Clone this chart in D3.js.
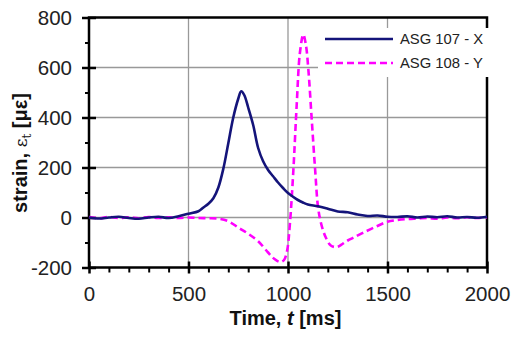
<!DOCTYPE html>
<html>
<head>
<meta charset="utf-8">
<title>strain vs time</title>
<script src="https://d3js.org/d3.v7.min.js"></script>
<style>
  body { margin: 0; background: #fff; }
  text { font-family: "Liberation Sans", Arial, sans-serif; }
</style>
</head>
<body>
<script>
// data (time in ms, strain in microstrain)
const t107 = [0, 50, 100, 150, 200, 250, 300, 350, 400, 450, 500, 550, 575, 600, 625, 650, 675, 700, 725, 750, 765, 780, 800, 825, 850, 875, 900, 925, 950, 975, 1000, 1025, 1050, 1075, 1100, 1150, 1200, 1250, 1300, 1350, 1400, 1450, 1500, 1550, 1600, 1650, 1700, 1750, 1800, 1850, 1900, 1950, 2000];
const v107 = [0, -4, 0, 3, -2, -5, 0, 3, -2, 5, 15, 25, 40, 55, 77, 120, 195, 297, 400, 475, 505, 490, 440, 370, 278, 225, 190, 165, 140, 118, 98, 83, 70, 60, 52, 45, 35, 24, 21, 12, 6, 8, 3, 2, 5, 0, 4, 1, 5, 0, 2, -1, 3];

const t108 = [0, 50, 100, 150, 200, 250, 300, 350, 400, 450, 500, 550, 600, 650, 700, 750, 800, 850, 900, 930, 960, 980, 995, 1010, 1027, 1044, 1060, 1077, 1090, 1102, 1119, 1136, 1152, 1170, 1190, 1215, 1245, 1275, 1300, 1330, 1375, 1430, 1500, 1550, 1600, 1650, 1700, 1750, 1800, 1850, 1900, 1950, 2000];
const v108 = [2, -3, 2, -2, 1, -3, 2, -2, 1, -2, 0, -2, -3, -5, -15, -40, -65, -95, -140, -165, -178, -170, -135, -20, 190, 455, 660, 732, 690, 595, 395, 195, 35, -35, -80, -112, -118, -105, -92, -80, -62, -41, -17, -10, -6, -4, -2, -5, 0, -3, 1, -2, 1];

const seriesNames = ["ASG 107 - X", "ASG 108 - Y"];
const xTicks = [0, 500, 1000, 1500, 2000];
const yTicks = [-200, 0, 200, 400, 600, 800];

const width = 515, height = 338;
const svg = d3.select("body").append("svg")
    .attr("width", width)
    .attr("height", height);

const x = d3.scaleLinear().domain([0, 2000]).range([89, 487]);
const y = d3.scaleLinear().domain([-200, 800]).range([267.5, 17.5]);

// grid
svg.append("g").selectAll("line")
    .data(xTicks.slice(1, -1))
    .enter().append("line")
    .attr("x1", d => x(d)).attr("x2", d => x(d))
    .attr("y1", y(800)).attr("y2", y(-200))
    .attr("stroke", "#999").attr("stroke-width", 1.3);
svg.append("g").selectAll("line")
    .data(yTicks.slice(1, -1))
    .enter().append("line")
    .attr("x1", x(0)).attr("x2", x(2000))
    .attr("y1", d => y(d)).attr("y2", d => y(d))
    .attr("stroke", "#999").attr("stroke-width", 1.3);

// frame
svg.append("rect")
    .attr("x", x(0)).attr("y", y(800))
    .attr("width", x(2000) - x(0)).attr("height", y(-200) - y(800))
    .attr("fill", "none").attr("stroke", "#000").attr("stroke-width", 2.5);

// minor ticks
const minorX = d3.range(0, 2001, 100).filter(d => d % 500 !== 0);
const minorY = d3.range(-200, 801, 100).filter(d => d % 200 !== 0);
svg.append("g")
    .attr("transform", "translate(0," + y(-200) + ")")
    .call(d3.axisBottom(x).tickValues(minorX).tickSize(5).tickFormat(""))
    .call(g => g.select(".domain").remove())
    .selectAll("line").attr("stroke-width", 2);
svg.append("g")
    .attr("transform", "translate(" + x(0) + ",0)")
    .call(d3.axisLeft(y).tickValues(minorY).tickSize(4).tickFormat(""))
    .call(g => g.select(".domain").remove())
    .selectAll("line").attr("stroke-width", 2);

// major ticks + labels (plain numbers, hyphen minus)
const plain = d => String(d);
const xAxis = svg.append("g")
    .attr("transform", "translate(0," + y(-200) + ")")
    .call(d3.axisBottom(x).tickValues(xTicks).tickFormat(plain).tickSize(6).tickPadding(13));
xAxis.select(".domain").remove();
xAxis.selectAll("line").attr("y1", -6).attr("stroke-width", 2.5);
xAxis.selectAll("text").attr("font-size", 20.5).attr("fill", "#222")
    .attr("font-family", "Liberation Sans, Arial, sans-serif");

const yAxis = svg.append("g")
    .attr("transform", "translate(" + x(0) + ",0)")
    .call(d3.axisLeft(y).tickValues(yTicks).tickFormat(plain).tickSize(7).tickPadding(10));
yAxis.select(".domain").remove();
yAxis.selectAll("line").attr("x1", 7).attr("stroke-width", 2.5);
yAxis.selectAll("text").attr("font-size", 20.5).attr("fill", "#222")
    .attr("font-family", "Liberation Sans, Arial, sans-serif");

// legend box hides grid and frame behind it
svg.append("rect")
    .attr("x", 318).attr("y", 28).attr("width", 180).attr("height", 49)
    .attr("fill", "#fff");

// curves
const line = d3.line()
    .x(d => x(d[0]))
    .y(d => y(d[1]))
    .curve(d3.curveCatmullRom.alpha(0.5));

svg.append("path")
    .datum(t108.map((t, i) => [t, v108[i]]))
    .attr("d", line)
    .attr("fill", "none")
    .attr("stroke", "#ff00ff")
    .attr("stroke-width", 2.6)
    .attr("stroke-dasharray", "7,4");

svg.append("path")
    .datum(t107.map((t, i) => [t, v107[i]]))
    .attr("d", line)
    .attr("fill", "none")
    .attr("stroke", "#14147a")
    .attr("stroke-width", 2.6);

// legend
const legend = svg.append("g");
const styles = [{ c: "#14147a", dash: null }, { c: "#ff00ff", dash: "7,4" }];
seriesNames.forEach((name, i) => {
    const ly = 39 + i * 24;
    legend.append("line")
        .attr("x1", 325).attr("x2", 393)
        .attr("y1", ly).attr("y2", ly)
        .attr("stroke", styles[i].c)
        .attr("stroke-width", 2.6)
        .attr("stroke-dasharray", styles[i].dash);
    legend.append("text")
        .attr("x", 400).attr("y", ly)
        .attr("dy", "0.35em")
        .attr("font-size", 14.8)
        .attr("fill", "#222")
        .text(name);
});

// axis titles
const xt = svg.append("text")
    .attr("x", 285.5).attr("y", 325)
    .attr("text-anchor", "middle")
    .attr("font-size", 20)
    .attr("font-weight", "bold")
    .attr("fill", "#111");
xt.append("tspan").text("Time, ");
xt.append("tspan").attr("font-style", "italic").text("t");
xt.append("tspan").text(" [ms]");

const yt = svg.append("text")
    .attr("transform", "translate(27,153) rotate(-90)")
    .attr("text-anchor", "middle")
    .attr("font-size", 20)
    .attr("font-weight", "bold")
    .attr("fill", "#111");
yt.append("tspan").text("strain, ");
yt.append("tspan").attr("font-weight", "normal").attr("font-family", "DejaVu Serif, serif").attr("font-size", 17).text("ε");
yt.append("tspan").attr("font-weight", "normal").attr("font-family", "DejaVu Serif, serif").attr("font-size", 12).attr("dy", 4).text("t");
yt.append("tspan").attr("dy", -4).text(" [");
yt.append("tspan").text("με");
yt.append("tspan").text("]");
</script>
</body>
</html>
